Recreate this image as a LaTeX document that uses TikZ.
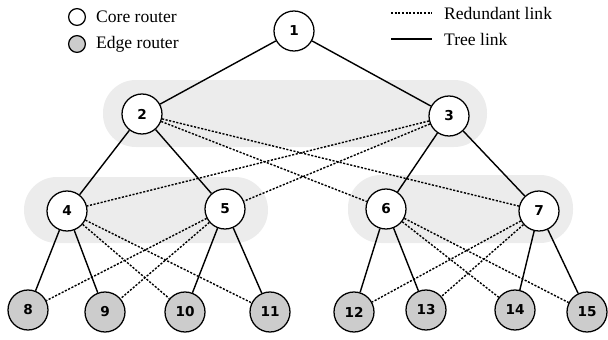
\documentclass[tikz,border=0pt]{standalone}
\usepackage{fontspec}
\setmainfont{Liberation Serif}
\newfontfamily\numfont{DejaVu Sans}
\tikzset{
  router/.style={circle,draw,line width=0.9pt,minimum size=1cm,inner sep=0pt,
    font=\numfont\bfseries\fontsize{9.7pt}{11pt}\selectfont},
  core/.style={router,fill=white},
  edge/.style={router,fill=gray!40},
  legendmark/.style={circle,draw,line width=0.9pt,minimum size=0.42cm,inner sep=0pt},
  legend/.style={anchor=west,font=\fontsize{12.5pt}{14pt}\selectfont},
  tree/.style={line width=1pt},
  redundant/.style={line width=1pt,dash pattern=on 1.5pt off 1.1pt},
  level/.style={fill=gray!15,rounded corners=0.82cm}
}

\begin{document}
\begin{tikzpicture}
        \useasboundingbox (0,0) rectangle (15.2,8.475);

        % aggregation levels
        \fill[level] (2.575,4.8) rectangle (12.175,6.475);
        \fill[level] (0.6,2.4) rectangle (6.7,4.05);
        \fill[level] (8.7,2.4) rectangle (14.325,4.1);

        % routers
        \foreach \i/\x/\y in {1/7.35/7.7, 2/3.55/5.625, 3/11.225/5.575,
            4/1.675/3.2, 5/5.625/3.25, 6/9.65/3.25, 7/13.475/3.2} {
          \node[core] (n\i) at (\x,\y) {\i};
        }
        \foreach \i/\x/\y in {8/0.7/0.725, 9/2.625/0.675, 10/4.625/0.675, 11/6.75/0.675,
            12/8.85/0.675, 13/10.65/0.725, 14/12.875/0.725, 15/14.675/0.675} {
          \node[edge] (n\i) at (\x,\y) {\i};
        }

        % links
        \foreach \a/\b in {1/2,1/3,2/4,2/5,3/6,3/7,4/8,4/9,5/10,5/11,6/12,6/13,7/14,7/15} {
          \draw[tree] (n\a) -- (n\b);
        }
        \foreach \a/\b in {2/6,2/7,3/4,3/5,4/10,4/11,5/8,5/9,6/14,6/15,7/12,7/13} {
          \draw[redundant] (n\a) -- (n\b);
        }

        % legend
        \node[legendmark,fill=white] (lcore) at (1.925,8.05) {};
        \node[legend] (tcore) at (2.28,8.05) {Core router};
        \node[legendmark,fill=gray!40] (ledge) at (1.925,7.375) {};
        \node[legend] (tedge) at (2.28,7.375) {Edge router};

        \coordinate (rs) at (9.775,8.15);
        \coordinate (re) at (10.8,8.15);
        \coordinate (ts) at (9.775,7.5);
        \coordinate (te) at (10.8,7.5);
        \draw[redundant] (rs) -- (re);
        \draw[tree] (ts) -- (te);
        \node[legend] (tred) at (10.98,8.15) {Redundant link};
        \node[legend] (ttree) at (10.98,7.5) {Tree link};
      \end{tikzpicture}
\end{document}
